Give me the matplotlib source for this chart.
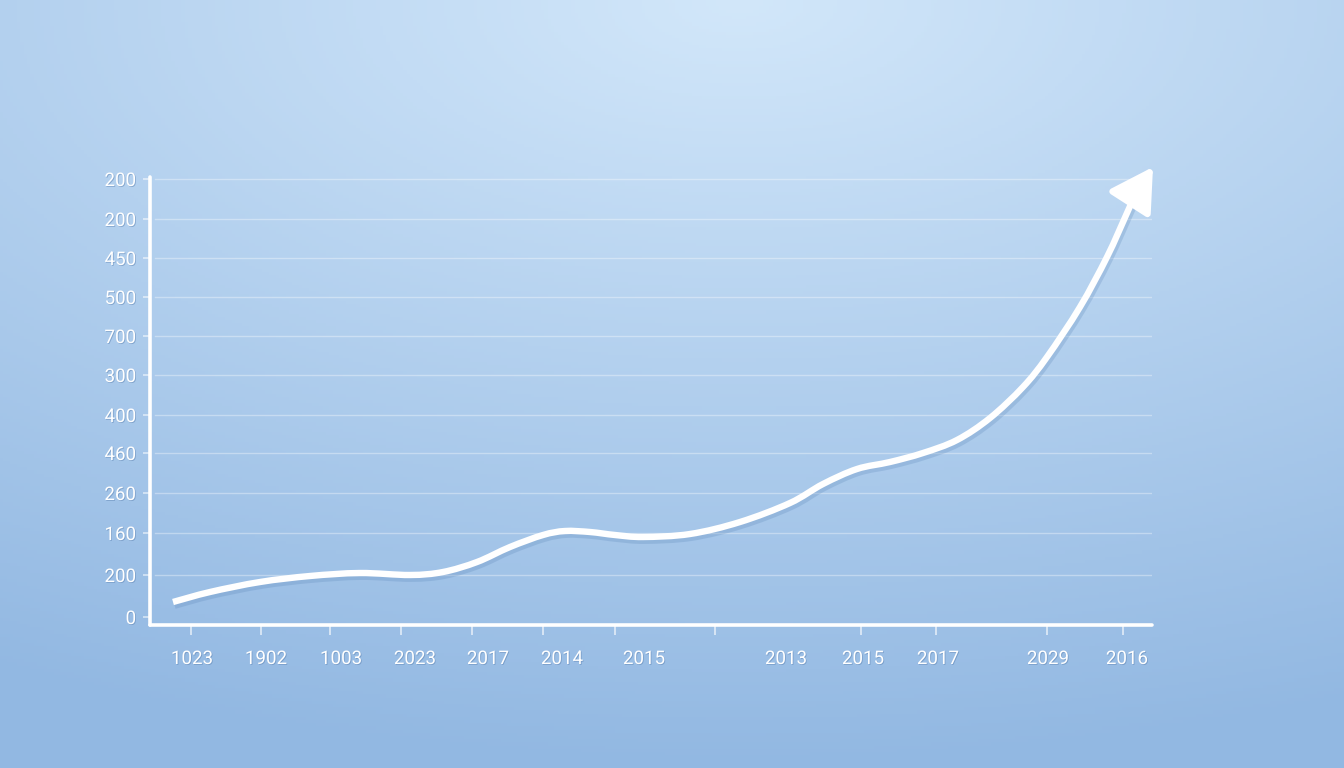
import numpy as np
import matplotlib
matplotlib.use("Agg")
import matplotlib.pyplot as plt
import matplotlib.patheffects as pe
from matplotlib.path import Path
from matplotlib.patches import PathPatch

# axis units: 1 unit = 1 px of the reference, y measured up from the baseline
y_ticks = [444, 404, 365, 326, 287, 248, 208, 170, 130, 90, 48, 6]
y_labels = ["200", "200", "450", "500", "700", "300", "400", "460", "260", "160", "200", "0"]
grid_y = [444, 404, 365, 326, 287, 248, 208, 170, 130, 90, 48]

x_label_pos = [192, 266, 341, 415, 488, 562, 644, 786, 863, 938, 1048, 1127]
x_labels = ["1023", "1902", "1003", "2023", "2017", "2014", "2015",
            "2013", "2015", "2017", "2029", "2016"]
x_tick_pos = [191, 261, 330, 401, 472, 543, 615, 715, 786, 861, 936, 1047, 1123]

line_x = [173, 210, 260, 310, 360, 410, 443, 477, 510, 543, 565, 590, 615, 643, 690,
          740, 790, 823, 857, 890, 923, 957, 990, 1023, 1047, 1080, 1107, 1127, 1135]
line_y = [21, 31, 41, 47, 50, 48, 51, 61, 76, 88, 92, 91, 88, 86, 89,
          101, 120, 139, 154, 161, 170, 183, 205, 236, 266, 316, 366, 410, 428]
arrow_tip = (1153, 456)


def smooth_path(xs, ys):
    # Catmull-Rom through the read points, drawn as cubic bezier segments
    p = np.column_stack([xs, ys]).astype(float)
    verts = [p[0]]
    codes = [Path.MOVETO]
    n = len(p)
    for i in range(n - 1):
        p0 = p[max(i - 1, 0)]
        p1, p2 = p[i], p[i + 1]
        p3 = p[min(i + 2, n - 1)]
        verts += [p1 + (p2 - p0) / 6, p2 - (p3 - p1) / 6, p2]
        codes += [Path.CURVE4] * 3
    return Path(verts, codes)


W, H = 1344, 768
fig = plt.figure(figsize=(W / 100, H / 100), dpi=100)

# background gradient
bg = fig.add_axes([0, 0, 1, 1])
gx, gy = np.meshgrid(np.linspace(0, 1, 400), np.linspace(0, 1, 240))
d = np.sqrt((gx - 0.55) ** 2 + (gy * 1.15) ** 2)
d = np.clip(d / 1.15, 0, 1)
top = np.array([210, 231, 250]) / 255
edge = np.array([146, 184, 226]) / 255
img = top[None, None, :] * (1 - d[..., None]) + edge[None, None, :] * d[..., None]
bg.imshow(img, extent=[0, 1, 0, 1], aspect="auto", origin="upper")
bg.axis("off")

ax = fig.add_axes([150 / W, (H - 625) / H, (1152 - 150) / W, (625 - 177) / H])
ax.set_facecolor("none")
ax.set_xlim(150, 1152)
ax.set_ylim(-2, 446)

for gyv in grid_y:
    ax.axhline(gyv, xmin=0.005, xmax=1, color="white", alpha=0.35, lw=1, zorder=1)

for s in ["top", "right"]:
    ax.spines[s].set_visible(False)
for s in ["left", "bottom"]:
    ax.spines[s].set_color("white")
    ax.spines[s].set_linewidth(2.6)
    ax.spines[s].set_capstyle("round")

shadow = [pe.Stroke(offset=(1, -2), linewidth=6, foreground="#5b86b8", alpha=0.25),
          pe.Normal()]
text_fx = [pe.withSimplePatchShadow(offset=(0.6, -0.6), shadow_rgbFace="#5a80b0", alpha=0.5)]

curve = PathPatch(smooth_path(line_x, line_y), facecolor="none", edgecolor="white",
                  lw=4.6, capstyle="butt", joinstyle="round", zorder=5,
                  path_effects=shadow)
ax.add_patch(curve)
ax.annotate("", xy=arrow_tip, xytext=(line_x[-1], line_y[-1]),
            annotation_clip=False,
            arrowprops=dict(arrowstyle="-|>,head_length=2.6,head_width=1.5",
                            mutation_scale=10, color="white", lw=4.6,
                            shrinkA=0, shrinkB=0, clip_on=False,
                            path_effects=[pe.withSimplePatchShadow(offset=(1.5, -2),
                                                                   shadow_rgbFace="#5b86b8",
                                                                   alpha=0.3)]),
            zorder=6)

ax.set_yticks(y_ticks)
ax.set_yticklabels(y_labels)
ax.set_xticks(x_label_pos)
ax.set_xticklabels(x_labels)
ax.set_xticks(x_tick_pos, minor=True)
ax.tick_params(axis="y", length=5, width=1.2, color=(1, 1, 1, 0.6), pad=5,
               labelsize=13.5, labelcolor="white")
ax.tick_params(axis="x", which="major", length=0, pad=18,
               labelsize=13.5, labelcolor="white")
ax.tick_params(axis="x", which="minor", length=7, width=1.2,
               color=(1, 1, 1, 0.7))
for lab in ax.get_xticklabels() + ax.get_yticklabels():
    lab.set_fontfamily("Roboto")
    lab.set_path_effects(text_fx)

fig.savefig("out.png", dpi=100)
